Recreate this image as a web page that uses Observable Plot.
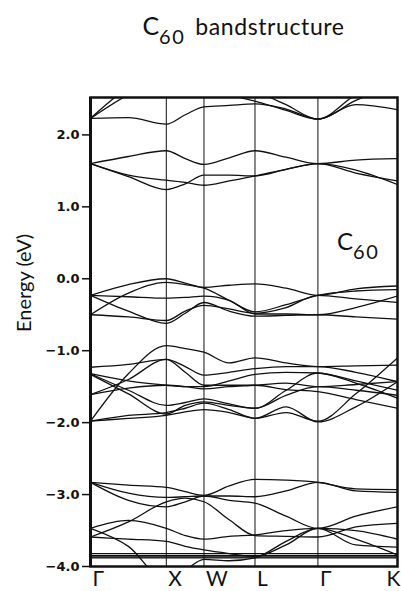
<!DOCTYPE html>
<html>
<head>
<meta charset="utf-8">
<script src="https://cdn.jsdelivr.net/npm/d3@7"></script>
<script src="https://cdn.jsdelivr.net/npm/@observablehq/plot@0.6"></script>
<style>
  body { margin: 0; background: #fff; }
  #wrap { position: relative; width: 401px; height: 591px; background: #fff; overflow: hidden; }
  .title { position: absolute; left: 90px; width: 307px; top: 12.8px; text-align: center; white-space: nowrap;
           font-family: Lato, "Noto Sans", sans-serif; font-size: 25px; line-height: 1; color: #111; }
  .title .sub { font-size: 20px; vertical-align: -9px; letter-spacing: 1.5px; }
  .title .rest { font-size: 23px; letter-spacing: 0.6px; margin-left: 10px; }
  .inlabel { position: absolute; left: 337px; top: 228.7px; white-space: nowrap;
             font-family: Lato, "Noto Sans", sans-serif; font-size: 24px; line-height: 1; color: #111; }
  .inlabel .sub { font-size: 20px; vertical-align: -9px; letter-spacing: 1.5px; }
</style>
</head>
<body>
<div id="wrap">
  <div id="chart"></div>
  <div class="title">C<span class="sub">60</span><span class="rest">bandstructure</span></div>
  <div class="inlabel">C<span class="sub">60</span></div>
</div>
<script>
// k-path sample positions (Γ, ½, X, ½, W, ½, L, ½, Γ, ½, K)
const kSamples = [0, 0.5, 1, 1.25, 1.497, 1.83, 2.17, 2.58, 3.0, 3.5, 4.05];
const kTicks = [0, 1, 1.497, 2.17, 3.0, 4.05];
const kLabels = ["Γ", "X", "W", "L", "Γ", "K"];
const yTicks = [-4, -3, -2, -1, 0, 1, 2];

// upper conduction bands (eV)
const T1 = [2.23, 2.24, 2.15, 2.28, 2.39, 2.41, 2.43, 2.36, 2.22, 2.42, 2.35];
const T2 = [2.23, 2.56, 2.80, 2.80, 2.70, 2.56, 2.47, 2.34, 2.22, 2.48, 2.70];
const T3 = [2.23, 2.66, 2.90, 2.90, 2.90, 2.80, 2.62, 2.42, 2.22, 2.56, 2.80];
// t1g-like bands
const A1 = [1.60, 1.70, 1.78, 1.67, 1.59, 1.68, 1.78, 1.69, 1.60, 1.65, 1.67];
const A2 = [1.60, 1.44, 1.37, 1.34, 1.30, 1.36, 1.43, 1.52, 1.60, 1.47, 1.36];
const A3 = [1.60, 1.42, 1.24, 1.32, 1.44, 1.44, 1.43, 1.52, 1.60, 1.51, 1.31];
// t1u-like bands
const L1 = [-0.23, -0.08, 0.00, -0.06, -0.12, -0.09, -0.07, -0.13, -0.23, -0.14, -0.10];
const L2 = [-0.50, -0.20, -0.05, -0.08, -0.13, -0.30, -0.46, -0.36, -0.23, -0.17, -0.15];
const L3 = [-0.23, -0.25, -0.27, -0.26, -0.24, -0.30, -0.49, -0.49, -0.50, -0.40, -0.24];
const L4 = [-0.23, -0.45, -0.62, -0.48, -0.33, -0.45, -0.52, -0.51, -0.50, -0.53, -0.56];
const L5 = [-0.50, -0.53, -0.58, -0.45, -0.37, -0.42, -0.48, -0.40, -0.23, -0.28, -0.33];
// valence bands
const M1 = [-1.98, -1.32, -0.93, -0.97, -1.02, -1.17, -1.10, -1.17, -1.22, -1.21, -1.20];
const M2 = [-1.23, -1.19, -1.12, -1.22, -1.34, -1.30, -1.25, -1.22, -1.22, -1.30, -1.43];
const M3 = [-1.32, -1.42, -1.48, -1.50, -1.50, -1.42, -1.33, -1.30, -1.31, -1.42, -1.55];
const M4 = [-1.32, -1.55, -1.76, -1.72, -1.67, -1.74, -1.80, -1.62, -1.50, -1.55, -1.62];
const M5 = [-1.33, -1.60, -1.88, -1.76, -1.71, -1.76, -1.80, -1.55, -1.31, -1.45, -1.66];
const M6 = [-1.61, -1.40, -1.12, -1.30, -1.48, -1.48, -1.48, -1.54, -1.57, -1.68, -1.80];
const M7 = [-1.61, -1.52, -1.48, -1.50, -1.53, -1.50, -1.48, -1.45, -1.50, -1.47, -1.43];
const M8 = [-1.98, -1.94, -1.90, -1.85, -1.82, -1.86, -1.94, -1.86, -1.98, -1.60, -1.10];
const M9 = [-1.98, -1.90, -1.86, -1.80, -1.73, -1.82, -1.94, -1.78, -1.99, -1.78, -1.43];
// deeper valence bands
const B1 = [-2.83, -2.87, -2.90, -2.96, -3.01, -2.88, -2.79, -2.80, -2.83, -2.92, -2.93];
const B2 = [-2.83, -2.98, -3.04, -3.03, -3.02, -3.02, -3.03, -2.95, -2.83, -2.95, -2.97];
const B3 = [-2.83, -3.08, -3.17, -3.10, -3.02, -3.08, -3.12, -3.30, -3.47, -3.30, -3.17];
const B4 = [-3.59, -3.38, -3.10, -3.05, -3.10, -3.35, -3.57, -3.58, -3.59, -3.45, -3.40];
const B5 = [-3.47, -3.36, -3.47, -3.57, -3.62, -3.58, -3.56, -3.50, -3.47, -3.70, -3.73];
const B6 = [-3.59, -3.62, -3.65, -3.72, -3.77, -3.82, -3.86, -3.70, -3.47, -3.50, -3.62];
const B7 = [-3.47, -3.72, -4.20, -4.05, -3.90, -3.92, -3.88, -3.65, -3.47, -3.62, -3.84];
const F1 = [-3.82, -3.82, -3.82, -3.82, -3.82, -3.82, -3.82, -3.82, -3.82, -3.82, -3.82];
const F2 = [-3.85, -3.85, -3.85, -3.85, -3.85, -3.85, -3.85, -3.85, -3.85, -3.85, -3.85];
const F3 = [-3.865, -3.865, -3.865, -3.865, -3.865, -3.865, -3.865, -3.865, -3.865, -3.865, -3.865];
const F4 = [-3.88, -3.88, -3.88, -3.88, -3.88, -3.88, -3.88, -3.88, -3.88, -3.88, -3.88];

const bandList = [["T1",T1],["T2",T2],["T3",T3],["A1",A1],["A2",A2],["A3",A3],
  ["L1",L1],["L2",L2],["L3",L3],["L4",L4],["L5",L5],
  ["M1",M1],["M2",M2],["M3",M3],["M4",M4],["M5",M5],["M6",M6],["M7",M7],["M8",M8],["M9",M9],
  ["B1",B1],["B2",B2],["B3",B3],["B4",B4],["B5",B5],["B6",B6],["B7",B7],
  ["F1",F1],["F2",F2],["F3",F3],["F4",F4]];
const rows = bandList.flatMap(([name, es]) => es.map((E, i) => ({band: name, k: kSamples[i], E})));

const labelMap = new Map(kTicks.map((k, i) => [k, kLabels[i]]));

const chart = Plot.plot({
  width: 401, height: 591,
  marginLeft: 90, marginRight: 4, marginTop: 97, marginBottom: 25,
  x: {domain: [0, 4.05], axis: null},
  y: {domain: [-4, 2.52], axis: null},
  style: {fontFamily: "'DejaVu Sans', sans-serif", background: "white", color: "#111"},
  marks: [
    Plot.ruleX(kTicks.slice(1, 5), {stroke: "#111", strokeWidth: 1}),
    Plot.line(rows, {x: "k", y: "E", z: "band", curve: "monotone-x", stroke: "#111", strokeWidth: 1.3, clip: true}),
    Plot.frame({stroke: "#111", strokeWidth: 2.5}),
    Plot.ruleX([0], {stroke: "#111", strokeWidth: 3}),
    Plot.axisY(yTicks, {tickFormat: d3.format(".1f"), tickSize: 8, tickPadding: 3, fontSize: "13px", fontWeight: "bold", strokeWidth: 1.5, label: null}),
    Plot.axisX(kTicks.slice(0, 5), {tickFormat: d => labelMap.get(d), tickSize: 0, tickPadding: 5, textAnchor: "start", dx: 2, fontSize: "21px", fontFamily: "Lato, 'Noto Sans', sans-serif", label: null}),
    Plot.axisX(kTicks.slice(5), {tickFormat: d => labelMap.get(d), tickSize: 0, tickPadding: 5, textAnchor: "end", dx: 3, fontSize: "21px", fontFamily: "Lato, 'Noto Sans', sans-serif", label: null}),
    Plot.text(["Energy (eV)"], {frameAnchor: "left", rotate: -90, dx: -66, fontSize: "20px", fontFamily: "Lato, 'Noto Sans', sans-serif", fill: "#111"})
  ]
});
document.getElementById("chart").appendChild(chart);
</script>
</body>
</html>
